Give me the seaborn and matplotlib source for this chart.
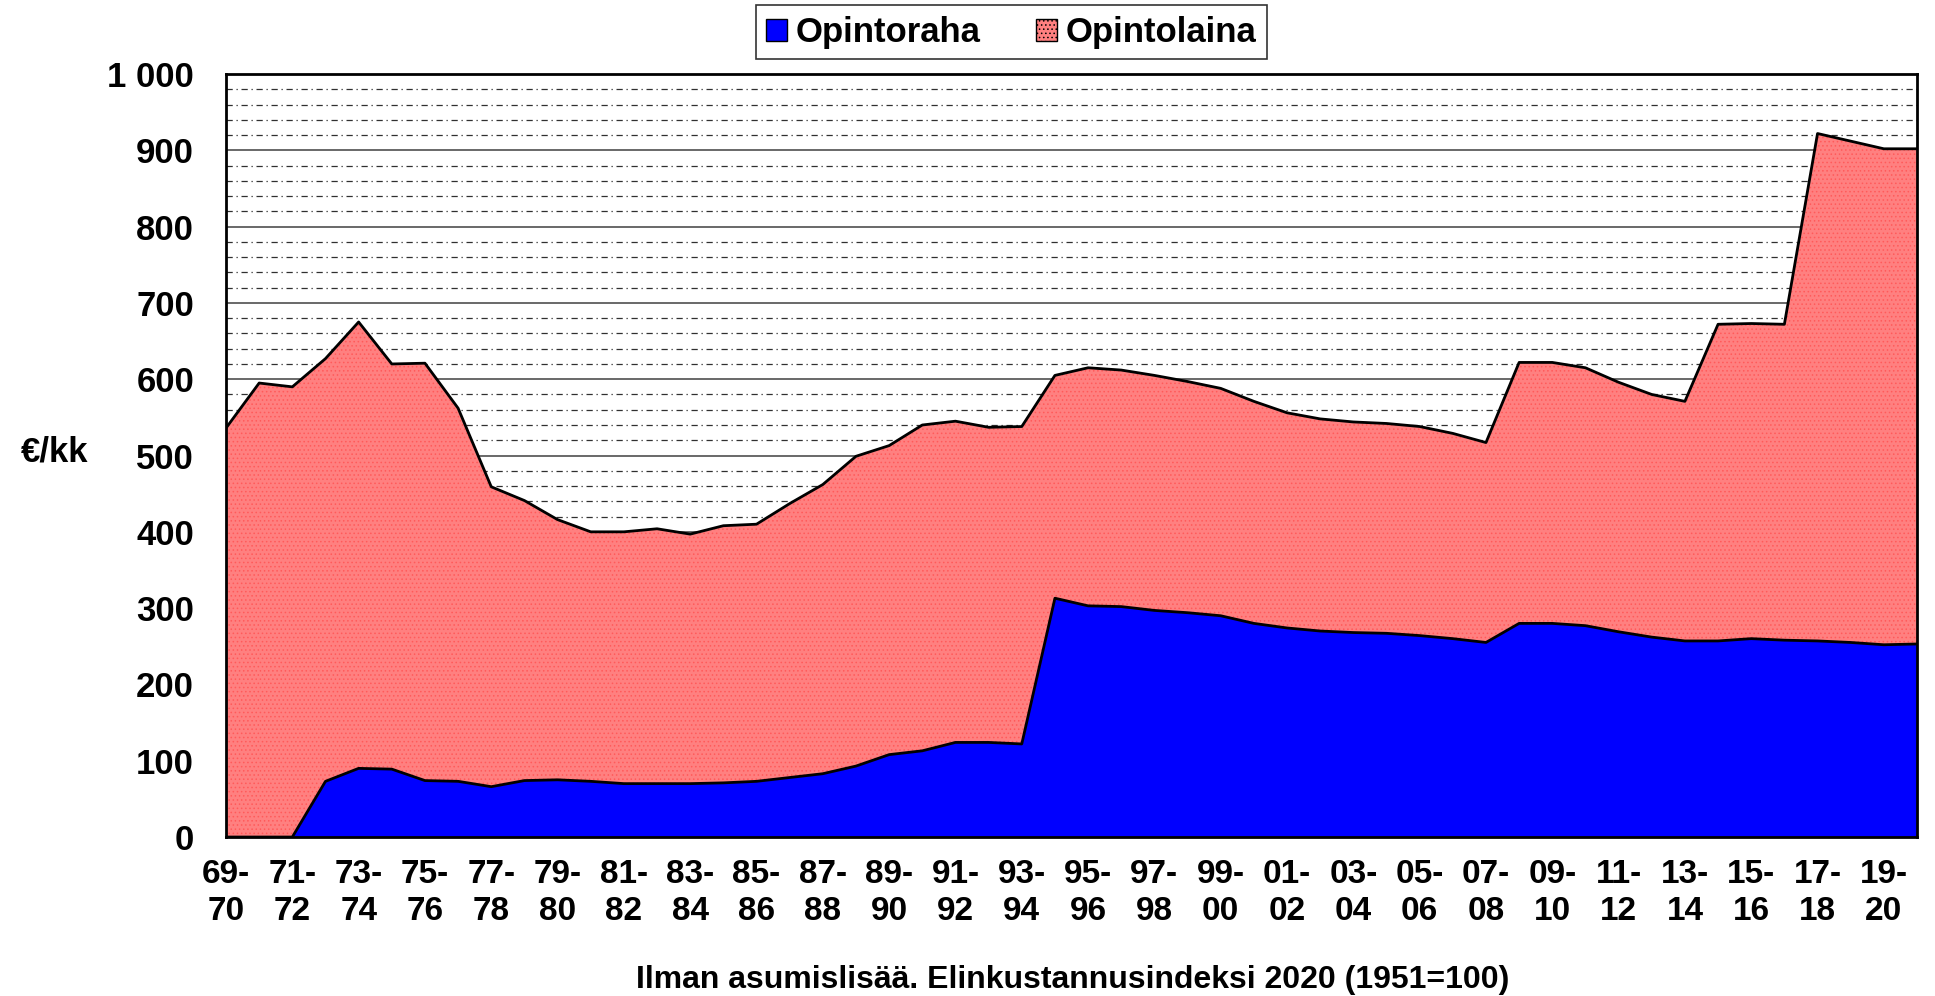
import numpy as np
import pandas as pd
import seaborn as sns
import matplotlib
matplotlib.use("Agg")
import matplotlib.pyplot as plt
from matplotlib.patches import Patch

# ─── data (€/kk) ─────────────────────────────────────────────────────────
PERIODS = [
    "69-70", "70-71", "71-72", "72-73", "73-74", "74-75", "75-76", "76-77",
    "77-78", "78-79", "79-80", "80-81", "81-82", "82-83", "83-84", "84-85",
    "85-86", "86-87", "87-88", "88-89", "89-90", "90-91", "91-92", "92-93",
    "93-94", "94-95", "95-96", "96-97", "97-98", "98-99", "99-00", "00-01",
    "01-02", "02-03", "03-04", "04-05", "05-06", "06-07", "07-08", "08-09",
    "09-10", "10-11", "11-12", "12-13", "13-14", "14-15", "15-16", "16-17",
    "17-18", "18-19", "19-20", "20-21",
]
opintoraha = [
    0, 0, 0, 73, 90, 89, 74, 73, 66, 74, 75, 73, 70, 70, 70, 71,
    73, 78, 83, 93, 108, 113, 124, 124, 122, 313, 303, 302, 297, 294, 290, 280,
    274, 270, 268, 267, 264, 260, 255, 280, 280, 277, 269, 262, 257, 257,
    260, 258, 257, 255, 252, 253,
]
opintolaina = [
    536, 595, 590, 554, 585, 531, 547, 489, 393, 367, 341, 327, 330, 334, 327, 337,
    337, 359, 379, 406, 405, 427, 421, 413, 416, 292, 312, 310, 308, 303, 298, 291,
    282, 278, 276, 275, 274, 269, 262, 342, 342, 338, 327, 318, 314, 415,
    413, 414, 665, 657, 650, 649,
]
SERIES = ["Opintoraha", "Opintolaina"]
COLORS = {"Opintoraha": "#0000ff", "Opintolaina": "#ff8080"}

df = pd.DataFrame({"period": PERIODS, "Opintoraha": opintoraha, "Opintolaina": opintolaina})
df["x"] = np.arange(len(df))
df["total"] = df["Opintoraha"] + df["Opintolaina"]

# ─── style ───────────────────────────────────────────────────────────────
sns.set_style("white")
plt.rcParams["font.family"] = ["Liberation Sans", "DejaVu Sans"]
plt.rcParams["font.weight"] = "bold"
plt.rcParams["text.color"] = "black"
plt.rcParams["xtick.color"] = "black"
plt.rcParams["ytick.color"] = "black"
plt.rcParams["hatch.linewidth"] = 0.6

fig = plt.figure(figsize=(19.35, 9.96), dpi=100)
ax = fig.add_axes([0.1168, 0.1596, 0.8739, 0.7661])

# stacked areas
ax.fill_between(df["x"], 0, df["Opintoraha"], color=COLORS["Opintoraha"], lw=0, zorder=2)
ax.fill_between(df["x"], df["Opintoraha"], df["total"], facecolor=COLORS["Opintolaina"],
                edgecolor="#ff5a5a", hatch="....", lw=0, zorder=2)
sns.lineplot(data=df, x="x", y="Opintoraha", color="black", lw=2, ax=ax, zorder=3)
sns.lineplot(data=df, x="x", y="total", color="black", lw=2, ax=ax, zorder=3)

# ─── axes ────────────────────────────────────────────────────────────────
ax.set_xlim(0, len(df) - 1)
ax.set_ylim(0, 1000)
ax.set_xlabel("")
ax.set_ylabel("")

ax.set_yticks(np.arange(0, 1001, 100))
ax.set_yticks(np.arange(0, 1001, 20), minor=True)
ax.set_yticklabels([f"{v:,}".replace(",", " ") for v in range(0, 1001, 100)],
                   fontsize=25, fontweight="bold")
ax.yaxis.grid(True, which="major", color="#404040", lw=1.1, zorder=1)
ax.yaxis.grid(True, which="minor", color="#303030", lw=0.9, ls=(0, (5, 3, 1, 3)), zorder=1)
ax.tick_params(axis="y", which="major", direction="out", length=10, width=1.5, pad=13)
ax.tick_params(axis="y", which="minor", length=0)

ax.set_xticks(df["x"])
ax.set_xticklabels([p.replace("-", "-\n") if i % 2 == 0 else "" for i, p in enumerate(PERIODS)],
                   fontsize=24, fontweight="bold", linespacing=1.25)
ax.tick_params(axis="x", direction="inout", length=14, width=1.2, pad=9)
ax.set_axisbelow(True)

for side in ["left", "right", "top", "bottom"]:
    ax.spines[side].set_visible(True)
    ax.spines[side].set_color("black")
    ax.spines[side].set_linewidth(2)
    ax.spines[side].set_zorder(4)

# legend
handles = [
    Patch(facecolor=COLORS["Opintoraha"], edgecolor="black", lw=1),
    Patch(facecolor=COLORS["Opintolaina"], edgecolor="black", lw=1, hatch="...."),
]
leg = fig.legend(handles, SERIES, loc="center", bbox_to_anchor=(0.5225, 0.9675), ncol=2,
                 frameon=True, fancybox=False, prop={"size": 25, "weight": "bold"},
                 handlelength=0.6, handleheight=0.6, handletextpad=0.25, columnspacing=1.6,
                 borderpad=0.3, borderaxespad=0)
leg.get_frame().set_edgecolor("black")
leg.get_frame().set_linewidth(1.2)

fig.text(0.028, 0.546, "€/kk", fontsize=25, fontweight="bold", ha="center", va="center")
fig.text(0.5545, 0.016, "Ilman asumislisää. Elinkustannusindeksi 2020 (1951=100)",
         fontsize=23, fontweight="bold", ha="center", va="center")

fig.savefig("out.png", dpi=100)
